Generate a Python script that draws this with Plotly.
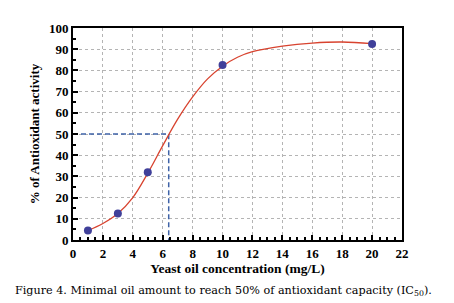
import plotly.graph_objects as go

# Measured data points
conc = [1, 3, 5, 10, 20]
activity = [4.5, 12.5, 32, 82.5, 92.5]

# Fitted curve
curve_x = [1, 2, 3, 4, 5, 6, 7, 8, 9, 10, 11, 12, 14, 16, 18, 20]
curve_y = [4.5, 7.8, 12.5, 20.0, 31.5, 44.5, 57, 67.5, 76, 82, 86.2, 88.8, 91.4, 92.9, 93.4, 92.6]

# IC50 guide
ic50_x = 6.4
ic50_y = 50

x_ticks = [0, 2, 4, 6, 8, 10, 12, 14, 16, 18, 20, 22]
y_ticks = [0, 10, 20, 30, 40, 50, 60, 70, 80, 90, 100]

serif = "Liberation Serif, Times New Roman, serif"

fig = go.Figure()
fig.add_trace(go.Scatter(x=[0, ic50_x, ic50_x], y=[ic50_y, ic50_y, 0], mode="lines",
                         line=dict(color="#3f63a8", width=1.5, dash="5px,3px"),
                         showlegend=False, hoverinfo="skip"))
fig.add_trace(go.Scatter(x=curve_x, y=curve_y, mode="lines",
                         line=dict(color="#d8432f", width=1.3, shape="spline", smoothing=1),
                         showlegend=False))
fig.add_trace(go.Scatter(x=conc, y=activity, mode="markers",
                         marker=dict(color="#40409a", size=8),
                         showlegend=False))

fig.update_layout(
    width=454, height=303,
    margin=dict(l=65, r=60, t=20, b=71, autoexpand=False),
    plot_bgcolor="white", paper_bgcolor="white",
    font=dict(family=serif, color="black"),
)
fig.update_xaxes(
    range=[0, 22], tickvals=x_ticks, ticktext=[str(v) for v in x_ticks],
    showgrid=True, gridcolor="#b4b4b4", griddash="3px,3px", gridwidth=1,
    showline=True, linecolor="black", linewidth=2, mirror=True,
    ticks="inside", ticklen=5, tickwidth=1.5, tickcolor="black",
    minor=dict(dtick=0.5, tick0=0, ticks="inside", ticklen=3, tickcolor="black", showgrid=False),
    tickfont=dict(family=serif, size=13, color="black", weight="bold"),
    title=dict(text="Yeast oil concentration (mg/L)", font=dict(family=serif, size=13.5, weight="bold"), standoff=4),
    zeroline=False, automargin=False,
)
fig.update_yaxes(
    range=[0, 100], tickvals=y_ticks, ticktext=[str(v) for v in y_ticks],
    showgrid=True, gridcolor="#b4b4b4", griddash="3px,3px", gridwidth=1,
    showline=True, linecolor="black", linewidth=2, mirror=True,
    ticks="inside", ticklen=5, tickwidth=1.5, tickcolor="black",
    minor=dict(dtick=5, tick0=0, ticks="inside", ticklen=3, tickcolor="black", showgrid=False),
    tickfont=dict(family=serif, size=13, color="black", weight="bold"),
    title=dict(text="% of Antioxidant activity", font=dict(family=serif, size=13, weight="bold"), standoff=6),
    zeroline=False, automargin=False,
)
fig.add_annotation(
    text="Figure 4. Minimal oil amount to reach 50% of antioxidant capacity (IC<sub>50</sub>).",
    xref="paper", yref="paper", x=-60/329, y=-0.2, xanchor="left", yanchor="top",
    showarrow=False, font=dict(family="DejaVu Serif, serif", size=11.2, color="black"),
)
fig.write_html("out.html")
